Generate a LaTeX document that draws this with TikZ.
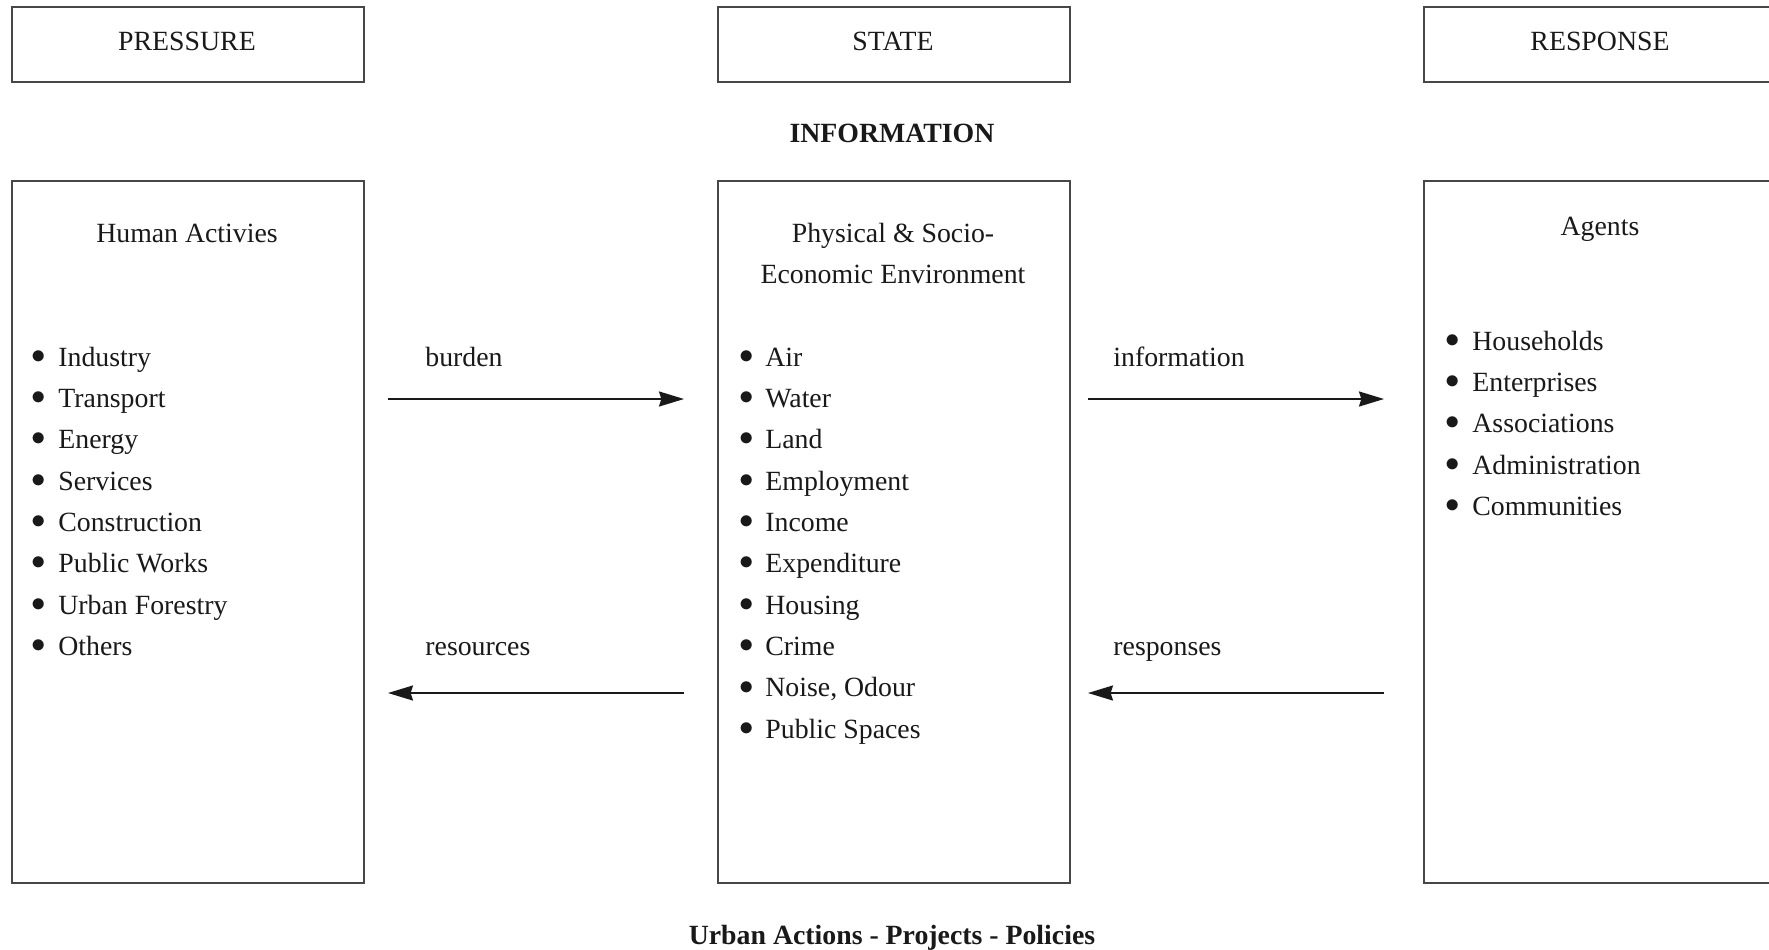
\documentclass[tikz,border=0pt]{standalone}
\usepackage{fontspec}
\setmainfont{Liberation Serif}
\usetikzlibrary{arrows.meta}
\newcommand{\mybul}{\raisebox{1.4pt}{$\bullet$}}
\begin{document}
\begin{tikzpicture}[x=0.5pt,y=-0.5pt,
  box/.style={draw=black!72, line width=0.75pt, inner sep=0pt, anchor=north west},
  topbox/.style={box, minimum width=176pt, minimum height=37.5pt},
  bigbox/.style={box, minimum width=176pt, minimum height=351pt},
  txt/.style={inner sep=0pt, text=black!90, font=\fontsize{13.9}{20.7}\selectfont},
  head/.style={txt, anchor=base},
  item/.style={txt, anchor=base west},
  flow/.style={line width=1pt, draw=black!90, -{Stealth[length=12.5pt,width=7.5pt,inset=1.2pt]}}
]
\clip (0,0) rectangle (1769,949);
\fill[white] (0,0) rectangle (1769,949);

% top boxes
\node[topbox] (pbox) at (11,6) {};
\node[topbox] (sbox) at (717,6) {};
\node[topbox, minimum width=177pt] (rbox) at (1423,6) {};
\node[head] (ptitle) at (187,50) {PRESSURE};
\node[head] (stitle) at (893,50) {STATE};
\node[head] (rtitle) at (1600,50) {RESPONSE};

\node[head, font=\fontsize{13.9}{20.7}\selectfont\bfseries] (info) at (892,142) {INFORMATION};

% big boxes
\node[bigbox] (pbig) at (11,180) {};
\node[bigbox] (sbig) at (717,180) {};
\node[bigbox, minimum width=177pt] (rbig) at (1423,180) {};

\node[head] (human) at (187,242) {Human Activies};
\node[head] (phys1) at (893,242) {Physical \& Socio-};
\node[head] (phys2) at (893,283) {Economic Environment};
\node[head] (agents) at (1600,235) {Agents};

% lists
\foreach \t [count=\i from 0] in {Industry,Transport,Energy,Services,Construction,Public Works,Urban Forestry,Others}
  \node[item] (l\i) at (58,366+41.35*\i) {\llap{\mybul\hspace{6pt}}\t};
\foreach \t [count=\i from 0] in {Air,Water,Land,Employment,Income,Expenditure,Housing,Crime,{Noise, Odour},Public Spaces}
  \node[item] (m\i) at (765,366+41.35*\i) {\llap{\mybul\hspace{6pt}}\t};
\foreach \t [count=\i from 0] in {Households,Enterprises,Associations,Administration,Communities}
  \node[item] (r\i) at (1472,350+41.35*\i) {\llap{\mybul\hspace{6.5pt}}\t};

% flow labels
\node[item] (burden) at (425,366) {burden};
\node[item] (infolab) at (1113,366) {information};
\node[item] (resources) at (425,655) {resources};
\node[item] (responses) at (1113,655) {responses};

% arrow end points
\coordinate (a1s) at (388,399); \coordinate (a1e) at (684,399);
\coordinate (a2s) at (1088,399); \coordinate (a2e) at (1384,399);
\coordinate (a3s) at (684,693); \coordinate (a3e) at (388,693);
\coordinate (a4s) at (1384,693); \coordinate (a4e) at (1088,693);
\draw[flow] (a1s) -- (a1e);
\draw[flow] (a2s) -- (a2e);
\draw[flow] (a3s) -- (a3e);
\draw[flow] (a4s) -- (a4e);

\node[head, font=\fontsize{13.9}{20.7}\selectfont\bfseries] (bottom) at (892,944) {Urban Actions - Projects - Policies};
\end{tikzpicture}
\end{document}
